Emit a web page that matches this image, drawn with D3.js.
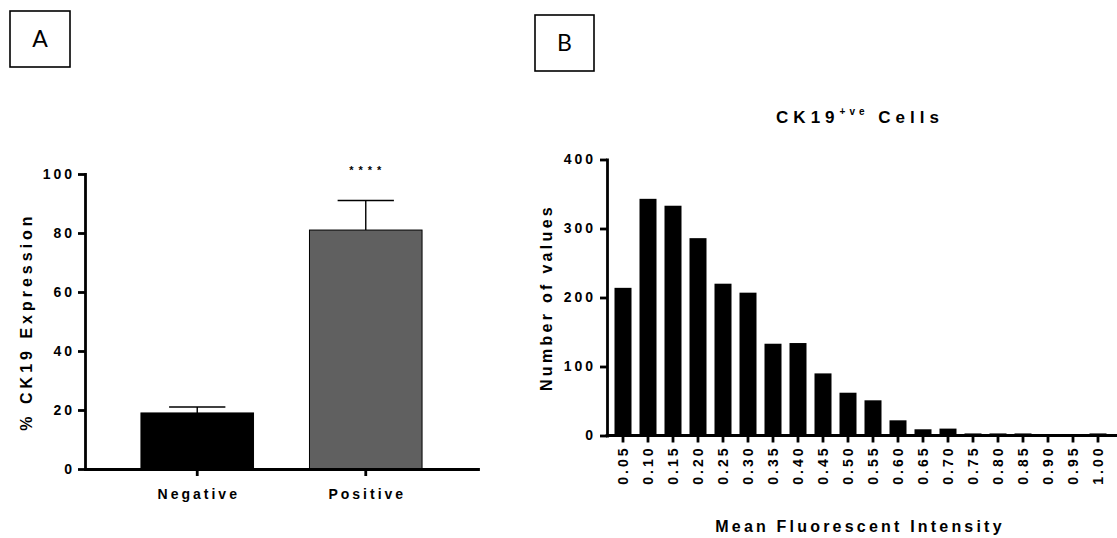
<!DOCTYPE html>
<html>
<head>
<meta charset="utf-8">
<script src="https://cdn.jsdelivr.net/npm/d3@7"></script>
<style>
  body { margin: 0; background: #fff; }
  svg text { font-family: "Liberation Sans", Arial, sans-serif; font-weight: bold; fill: #000; }
  .panel-label { font-family: Lato, "Liberation Sans", sans-serif; font-weight: normal; }
</style>
</head>
<body>
<div id="chart"></div>
<script>
// Panel A data
const groups = ["Negative", "Positive"];
const expression = [19, 81];
const expressionErr = [2, 10];
const groupFill = ["#000000", "#606060"];
const yTicksA = [0, 20, 40, 60, 80, 100];

// Panel B data
const mfiBins = ["0.05", "0.10", "0.15", "0.20", "0.25", "0.30", "0.35", "0.40", "0.45", "0.50",
                 "0.55", "0.60", "0.65", "0.70", "0.75", "0.80", "0.85", "0.90", "0.95", "1.00"];
const cellCounts = [214, 343, 333, 286, 220, 207, 133, 134, 90, 62,
                    51, 22, 9, 10, 3, 3, 3, 1, 1, 3];
const yTicksB = [0, 100, 200, 300, 400];

const width = 1117;
const height = 538;

const svg = d3.select("#chart")
  .append("svg")
  .attr("width", width)
  .attr("height", height);

// panel letters in boxes
function panelBox(x, y, w, h, letter) {
  svg.append("rect")
    .attr("x", x).attr("y", y)
    .attr("width", w).attr("height", h)
    .attr("fill", "none")
    .attr("stroke", "#000")
    .attr("stroke-width", 1.6);
  svg.append("text")
    .attr("class", "panel-label")
    .attr("x", x + w / 2)
    .attr("y", y + h / 2 + 8)
    .attr("text-anchor", "middle")
    .style("font-size", "23px")
    .text(letter);
}
panelBox(10, 11, 60, 56, "A");
panelBox(535, 15, 59, 56, "B");

function styleAxis(g, lw) {
  g.selectAll("path.domain").attr("stroke-width", lw).attr("stroke-linecap", "square");
  g.selectAll(".tick line").attr("stroke-width", lw);
  g.selectAll(".tick text")
    .attr("font-family", null)
    .style("font-size", "14px")
    .style("letter-spacing", "3px")
    .style("font-weight", "bold");
}

// ---------- Panel A ----------
const xA = d3.scaleBand()
  .domain(groups)
  .range([85, 478])
  .paddingInner(0.332)
  .paddingOuter(0.332);

const yA = d3.scaleLinear()
  .domain([0, 100])
  .range([469, 174]);

const barsA = svg.append("g");
barsA.selectAll("rect")
  .data(groups)
  .enter()
  .append("rect")
  .attr("x", d => xA(d))
  .attr("width", xA.bandwidth())
  .attr("y", (d, i) => yA(expression[i]))
  .attr("height", (d, i) => yA(0) - yA(expression[i]))
  .attr("fill", (d, i) => groupFill[i])
  .attr("stroke", "#000")
  .attr("stroke-width", 1);

// error bars (upper only)
const errA = svg.append("g").attr("stroke", "#000").attr("stroke-width", 1.4);
groups.forEach((d, i) => {
  const cx = xA(d) + xA.bandwidth() / 2;
  errA.append("line")
    .attr("x1", cx).attr("x2", cx)
    .attr("y1", yA(expression[i]))
    .attr("y2", yA(expression[i] + expressionErr[i]));
  errA.append("line")
    .attr("x1", cx - xA.bandwidth() / 4).attr("x2", cx + xA.bandwidth() / 4)
    .attr("y1", yA(expression[i] + expressionErr[i]))
    .attr("y2", yA(expression[i] + expressionErr[i]));
});

// significance stars
svg.append("text")
  .attr("x", xA("Positive") + xA.bandwidth() / 2 + 2)
  .attr("y", yA(100))
  .attr("text-anchor", "middle")
  .style("font-size", "11px")
  .style("letter-spacing", "5px")
  .text("****");

const yAxisA = svg.append("g")
  .attr("transform", `translate(${xA.range()[0]},0)`)
  .call(d3.axisLeft(yA).tickValues(yTicksA).tickSize(7).tickSizeOuter(0).tickPadding(3));
styleAxis(yAxisA, 2.8);

const xAxisA = svg.append("g")
  .attr("transform", `translate(0,${yA(0)})`)
  .call(d3.axisBottom(xA).tickSize(7).tickSizeOuter(0).tickPadding(13));
styleAxis(xAxisA, 2.8);
xAxisA.selectAll(".tick text").attr("dx", "1.5px");

svg.append("text")
  .attr("transform", `translate(32,${(yA(0) + yA(100)) / 2}) rotate(-90)`)
  .attr("text-anchor", "middle")
  .style("font-size", "16px")
  .style("letter-spacing", "4px")
  .text("% CK19 Expression");

// ---------- Panel B ----------
const xB = d3.scaleBand()
  .domain(mfiBins)
  .range([607, 1114])
  .paddingInner(0.32)
  .paddingOuter(0.3);

const yB = d3.scaleLinear()
  .domain([0, 400])
  .range([435.5, 159.5]);

svg.append("g")
  .selectAll("rect")
  .data(mfiBins)
  .enter()
  .append("rect")
  .attr("x", d => xB(d))
  .attr("width", xB.bandwidth())
  .attr("y", (d, i) => yB(cellCounts[i]))
  .attr("height", (d, i) => yB(0) - yB(cellCounts[i]))
  .attr("fill", "#000");

const yAxisB = svg.append("g")
  .attr("transform", `translate(${xB.range()[0]},0)`)
  .call(d3.axisLeft(yB).tickValues(yTicksB).tickSize(7).tickSizeOuter(0).tickPadding(4));
styleAxis(yAxisB, 2.8);

const xAxisB = svg.append("g")
  .attr("transform", `translate(0,${yB(0)})`)
  .call(d3.axisBottom(xB).tickSize(7).tickSizeOuter(0));
styleAxis(xAxisB, 2.8);
// baseline runs on to the page edge
xAxisB.select("path.domain").attr("d", `M${xB.range()[0]},0H${width}`);
xAxisB.selectAll(".tick text")
  .attr("y", 0)
  .attr("x", 0)
  .attr("dy", "0.35em")
  .attr("text-anchor", "end")
  .attr("transform", "translate(0,10) rotate(-90)");

svg.append("text")
  .attr("transform", `translate(552,${(yB(0) + yB(400)) / 2}) rotate(-90)`)
  .attr("text-anchor", "middle")
  .style("font-size", "16px")
  .style("letter-spacing", "3.3px")
  .text("Number of values");

svg.append("text")
  .attr("x", 860)
  .attr("y", 532)
  .attr("text-anchor", "middle")
  .style("font-size", "16px")
  .style("letter-spacing", "3.2px")
  .text("Mean Fluorescent Intensity");

const title = svg.append("text")
  .attr("x", 860)
  .attr("y", 123)
  .attr("text-anchor", "middle")
  .style("font-size", "17px")
  .style("letter-spacing", "5px");
title.append("tspan").text("CK19");
title.append("tspan")
  .attr("dy", -8)
  .style("font-size", "10px")
  .style("letter-spacing", "4px")
  .text("+ve");
title.append("tspan")
  .attr("dy", 8)
  .text(" Cells");
</script>
</body>
</html>
